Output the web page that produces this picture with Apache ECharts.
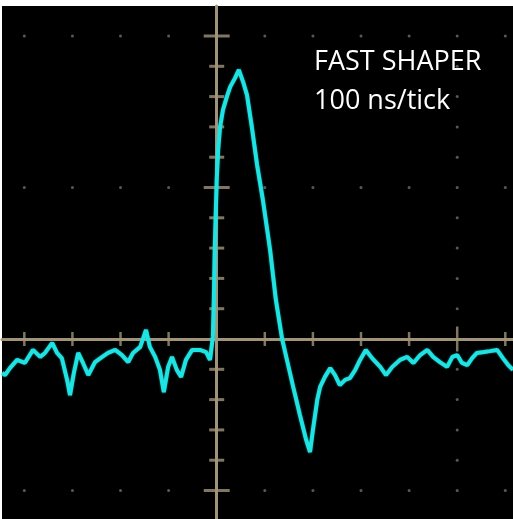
<!DOCTYPE html>
<html><head><meta charset="utf-8">
<script src="https://cdn.jsdelivr.net/npm/echarts@6/dist/echarts.min.js"></script>
<style>html,body{margin:0;padding:0;background:#fff;}#c{width:513px;height:519px;}</style>
</head><body><div id="c"></div>
<script>
// time in ns (100 ns per tick), amplitude in minor ticks
const traceTime = [-446,-440,-430,-415,-399,-382,-367,-357,-342,-332,-322,-311,-305,-297,-288,-278,-267,-253,-238,-226,-211,-197,-184,-174,-159,-147,-139,-128,-118,-110,-101,-93,-83,-74,-64,-51,-35,-22,-14,-10,-8,-6,-4,0,3,7,13,21,28,38,46,55,63,73,84,96,111,123,136,146,159,173,186,194,200,209,215,225,236,246,256,267,277,288,298,310,323,340,352,365,381,396,409,423,438,450,464,479,490,500,510,521,531,541,556,568,583,595,606,616];
const traceValue = [-1.12,-1.19,-0.96,-0.69,-0.79,-0.36,-0.59,-0.46,-0.13,-0.46,-0.63,-1.35,-1.85,-1.12,-0.46,-0.79,-1.19,-0.76,-0.59,-0.46,-0.36,-0.53,-0.76,-0.46,-0.26,0.30,-0.26,-0.59,-1.02,-1.75,-0.92,-0.59,-1.02,-1.25,-0.69,-0.36,-0.36,-0.43,-0.69,-0.69,0.07,1.29,3.04,5.25,6.24,7.0,7.56,7.99,8.32,8.61,8.88,8.48,8.05,7.0,5.74,4.59,2.94,1.29,0,-0.69,-1.58,-2.51,-3.33,-3.73,-3.0,-2.01,-1.58,-1.25,-0.96,-1.19,-1.52,-1.35,-1.29,-1.02,-0.69,-0.36,-0.63,-0.92,-1.19,-0.92,-0.69,-0.59,-0.79,-0.53,-0.36,-0.59,-0.76,-0.92,-0.59,-0.53,-0.79,-0.86,-0.63,-0.46,-0.43,-0.40,-0.36,-0.63,-0.86,-1.02];

const xMinorTicks = [-400,-300,-200,-100,100,200,300,400,600];
const xMajorTicks = [500];
const yMinorTicks = [-4,-3,-2,-1,1,2,3,4,6,7,8,9];
const yMajorTicks = [-5,5,10];
const dotRows = [10,5,-5];
const dotCols = [500];
const xAllTicks = [-400,-300,-200,-100,100,200,300,400,500,600];
const yAllTicks = [-5,-4,-3,-2,-1,1,2,3,4,5,6,7,8,9,10];
const labelLines = ['FAST SHAPER','100 ns/tick'];

const gridColor = '#a09379';
const dots = [];
dotRows.forEach(v => xAllTicks.forEach(t => dots.push([t, v])));
dotCols.forEach(t => yAllTicks.forEach(v => { if (!dotRows.includes(v)) dots.push([t, v]); }));

const chart = echarts.init(document.getElementById('c'));
chart.setOption({
  animation: false,
  backgroundColor: '#ffffff',
  title: {
    text: labelLines.join('\n'), left: 314, top: 43, padding: 0,
    textStyle: {color: '#ffffff', fontFamily: 'Open Sans', fontWeight: 'normal', fontSize: 27, lineHeight: 39}
  },
  grid: {left: 2, top: 6, width: 511, height: 513, show: true, backgroundColor: '#000000', borderWidth: 0},
  xAxis: {type: 'value', min: -446.4, max: 616, axisLine: {show: true, onZero: true, lineStyle: {color: gridColor, width: 3}},
    axisTick: {show: false}, axisLabel: {show: false}, splitLine: {show: false}},
  yAxis: {type: 'value', min: -5.94, max: 10.99, axisLine: {show: true, onZero: true, lineStyle: {color: gridColor, width: 3}},
    axisTick: {show: false}, axisLabel: {show: false}, splitLine: {show: false}},
  series: [
    {type: 'scatter', data: dots, symbol: 'circle', symbolSize: 3, itemStyle: {color: '#6f6f6f'}, silent: true, z: 1},
    {type: 'scatter', data: xMinorTicks.map(t => [t, 0]), symbol: 'rect', symbolSize: [2.5, 14], itemStyle: {color: gridColor}, silent: true, z: 1},
    {type: 'scatter', data: xMajorTicks.map(t => [t, 0]), symbol: 'rect', symbolSize: [2.5, 25], itemStyle: {color: gridColor}, silent: true, z: 1},
    {type: 'scatter', data: yMinorTicks.map(v => [0, v]), symbol: 'rect', symbolSize: [15, 3], itemStyle: {color: gridColor}, silent: true, z: 1},
    {type: 'scatter', data: yMajorTicks.map(v => [0, v]), symbol: 'rect', symbolSize: [26, 3], itemStyle: {color: gridColor}, silent: true, z: 1},
    {type: 'line', data: traceTime.map((t, i) => [t, traceValue[i]]), showSymbol: false, z: 5,
      lineStyle: {color: '#1fe3e3', width: 4, shadowColor: 'rgba(31,227,227,0.6)', shadowBlur: 2}}
  ]
});
</script></body></html>
